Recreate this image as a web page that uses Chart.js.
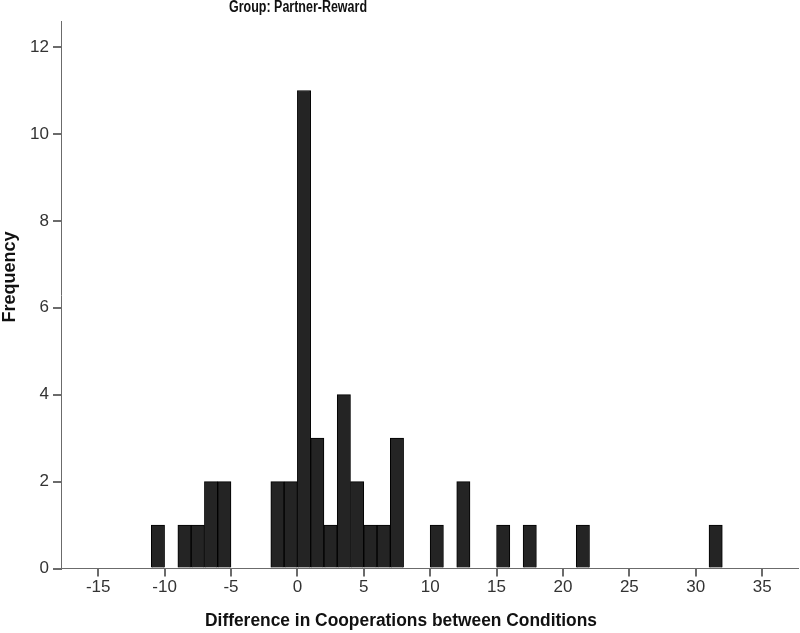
<!DOCTYPE html>
<html>
<head>
<meta charset="utf-8">
<script src="https://cdn.jsdelivr.net/npm/chart.js@4"></script>
<style>
  html, body { margin: 0; padding: 0; background: #fff; }
  #wrap { width: 800px; height: 633px; }
</style>
</head>
<body>
<div id="wrap"><canvas id="hist" width="800" height="633"></canvas></div>
<script>
// bin lower edges (bins are 1 unit wide) and their frequencies
const binStarts = [-11, -9, -8, -7, -6, -2, -1, 0, 1, 2, 3, 4, 5, 6, 7, 10, 12, 15, 17, 21, 31];
const counts    = [  1,  1,  1,  2,  2,  2,  2, 11, 3, 1, 4, 2, 1, 1, 3,  1,  2,  1,  1,  1,  1];
const xTicks = [-15, -10, -5, 0, 5, 10, 15, 20, 25, 30, 35];
const yTicks = [0, 2, 4, 6, 8, 10, 12];

const chartTitle = "Group: Partner-Reward";
const xTitle = "Difference in Cooperations between Conditions";
const yTitle = "Frequency";

const axisColor = "#6b6b6b";
const tickFont = { family: "'Liberation Sans', Arial, sans-serif", size: 17 };

// draw text squeezed to a given width (SPSS fonts run a bit narrow)
function fitText(ctx, text, x, y, width) {
  const w = ctx.measureText(text).width;
  ctx.save();
  ctx.translate(x, y);
  ctx.scale(Math.min(1, width / w), 1);
  ctx.fillText(text, 0, 0);
  ctx.restore();
}

// titles are drawn by hand so they sit where SPSS puts them
const titlesPlugin = {
  id: "titles",
  afterDraw(chart) {
    const ctx = chart.ctx;
    ctx.save();
    ctx.fillStyle = "#111";
    ctx.textAlign = "center";
    ctx.textBaseline = "middle";
    ctx.font = "bold 16px 'Liberation Sans Narrow', 'Liberation Sans', sans-serif";
    fitText(ctx, chartTitle, 298, 8, 138);
    ctx.font = "bold 18px 'Liberation Sans', Arial, sans-serif";
    fitText(ctx, xTitle, 401, 621, 392);
    ctx.translate(10, 277);
    ctx.rotate(-Math.PI / 2);
    ctx.font = "bold 18px 'Liberation Sans', Arial, sans-serif";
    ctx.fillText(yTitle, 0, 0);
    ctx.restore();
  }
};

new Chart(document.getElementById("hist"), {
  type: "bar",
  data: {
    datasets: [{
      data: binStarts.map((s, i) => ({ x: s + 0.5, y: counts[i] })),
      backgroundColor: "#242424",
      borderColor: "#000",
      borderWidth: 1,
      barPercentage: 1,
      categoryPercentage: 1,
    }],
  },
  options: {
    responsive: false,
    animation: false,
    layout: { padding: { top: 21, right: 2, left: 0, bottom: 0 } },
    plugins: { legend: { display: false }, tooltip: { enabled: false } },
    scales: {
      x: {
        type: "linear",
        min: -17.8,
        max: 37.7,
        offset: false,
        afterBuildTicks: (s) => { s.ticks = xTicks.map((v) => ({ value: v })); },
        afterFit: (s) => { s.height = 64.5; },
        grid: { offset: false, drawOnChartArea: false, tickLength: 8, color: axisColor, lineWidth: 2 },
        border: { color: axisColor, width: 1 },
        ticks: { font: tickFont, color: "#333", padding: 1, maxRotation: 0 },
      },
      y: {
        min: 0,
        max: 12.6,
        afterBuildTicks: (s) => { s.ticks = yTicks.map((v) => ({ value: v })); },
        afterFit: (s) => { s.width = 61; },
        grid: { drawOnChartArea: false, tickLength: 8, color: axisColor, lineWidth: 2 },
        border: { color: axisColor, width: 1 },
        ticks: { font: tickFont, color: "#333", padding: 4 },
      },
    },
  },
  plugins: [titlesPlugin],
});
</script>
</body>
</html>
